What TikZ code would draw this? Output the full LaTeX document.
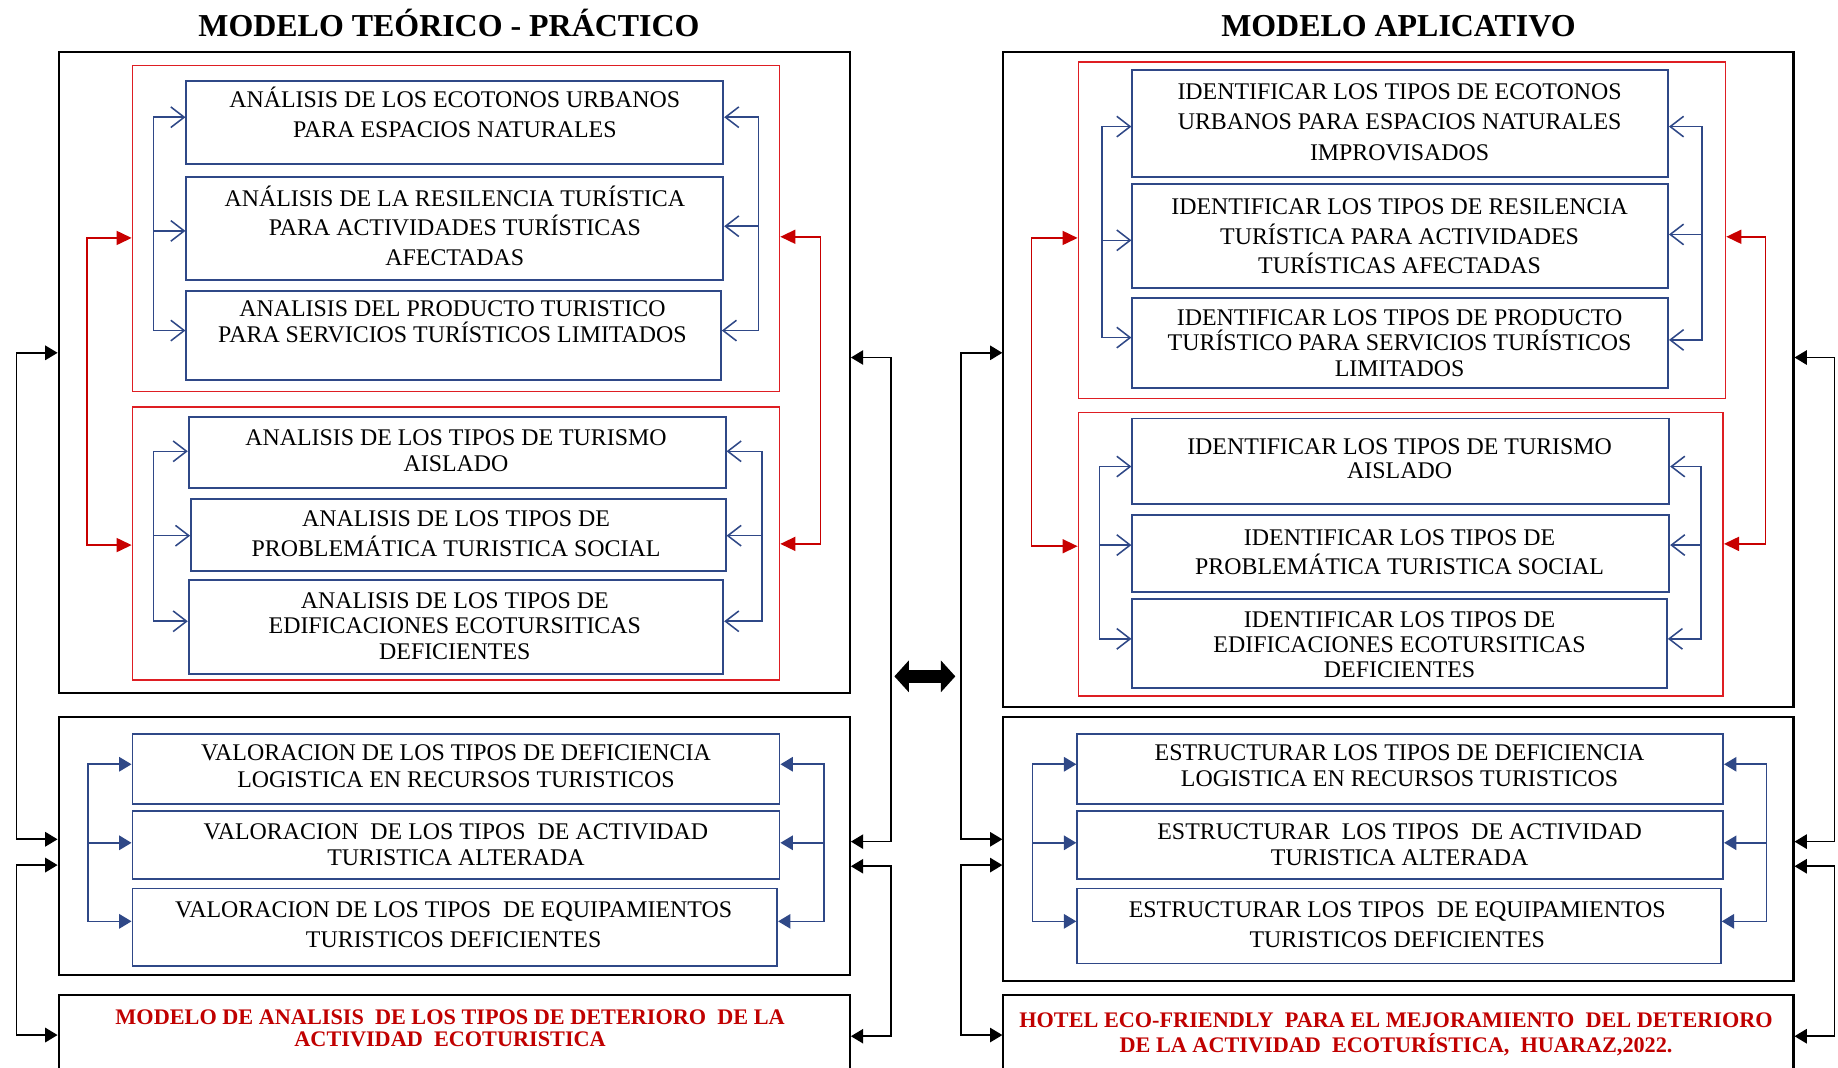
\documentclass[tikz,border=0pt]{standalone}
\usepackage{fontspec}
\setmainfont{Liberation Serif}
\usetikzlibrary{arrows.meta,fit}
\definecolor{navy}{RGB}{47,72,135}
\definecolor{rbox}{RGB}{222,30,35}
\definecolor{rarrow}{RGB}{200,0,0}
\definecolor{rtext}{RGB}{192,0,0}
\newcommand\bt[5]{\node[txt,font=\fontsize{11.6}{#4}\selectfont] (#1) at (#2,#3-11.8) {\rule{0pt}{10.5pt}#5};}
\newcommand\rt[5]{\node[txt,text=rtext,font=\fontsize{10.8}{#4}\selectfont\bfseries] (#1) at (#2,#3-12) {\rule{0pt}{10.5pt}#5};}
\begin{document}
\begin{tikzpicture}[x=0.02cm,y=-0.02cm,
 kbox/.style={draw=black,line width=1pt,inner sep=0pt},
 rbx/.style={draw=rbox,line width=0.8pt,inner sep=0pt},
 bbox/.style={draw=navy,line width=0.9pt,inner sep=0pt},
 txt/.style={anchor=north,align=center,inner sep=0pt},
 bl/.style={draw=navy,line width=0.75pt},
 bopen/.style={bl,-{Straight Barb[length=6.5pt,width=10pt]}},
 bopen2/.style={bl,{Straight Barb[length=6.5pt,width=10pt]}-{Straight Barb[length=6.5pt,width=10pt]}},
 bfill/.style={bl,-{Triangle[length=6pt,width=7pt]}},
 bfill2/.style={bl,{Triangle[length=6pt,width=7pt]}-{Triangle[length=6pt,width=7pt]}},
 rl/.style={draw=rarrow,line width=0.8pt},
 rfill2/.style={rl,{Triangle[length=7.3pt,width=6.8pt]}-{Triangle[length=7.3pt,width=6.8pt]}},
 kl/.style={draw=black,line width=0.8pt},
 kfill2/.style={kl,{Triangle[length=6pt,width=7pt]}-{Triangle[length=6pt,width=7pt]}},
 ttl/.style={font=\fontsize{15.5}{18}\selectfont\bfseries,anchor=base,inner sep=0pt}
]
\useasboundingbox (0,0) rectangle (1568,911);
\clip (0,0) rectangle (1568,911);

% titles
\node[ttl] (T1) at (383,31) {MODELO TEÓRICO - PRÁCTICO};
\node[ttl] (T2) at (1193,31) {MODELO APLICATIVO};

% ===== left panel =====
\node[kbox,fit={(50,44)(725,591)}] (K1) {};
\node[rbx,fit={(113,56)(665,334)}] (RA) {};
\node[bbox,fit={(159,69)(617,140)}] (B1) {};
\node[bbox,fit={(159,151)(617,239)}] (B2) {};
\node[bbox,fit={(159,248)(615,324)}] (B3) {};
\node[rbx,fit={(113,347)(665,580)}] (RB) {};
\node[bbox,fit={(161,356)(619,416)}] (C1) {};
\node[bbox,fit={(163,426)(619,487)}] (C2) {};
\node[bbox,fit={(161,495)(617,575)}] (C3) {};
\node[kbox,fit={(50,612)(725,832)}] (K2) {};
\node[bbox,fit={(113,626)(665,686)}] (D1) {};
\node[bbox,fit={(113,692)(665,750)}] (D2) {};
\node[bbox,fit={(113,758)(663,824)}] (D3) {};
\node[kbox,fit={(50,849)(725,940)}] (K3) {};

\bt{tB1}{388}{85}{14.2pt}{ANÁLISIS DE LOS ECOTONOS URBANOS\\PARA ESPACIOS NATURALES}
\bt{tB2}{388}{169}{14.4pt}{ANÁLISIS DE LA RESILENCIA TURÍSTICA\\PARA ACTIVIDADES TURÍSTICAS\\AFECTADAS}
\bt{tB3}{386}{263}{12.5pt}{ANALISIS DEL PRODUCTO TURISTICO\\PARA SERVICIOS TURÍSTICOS LIMITADOS}
\bt{tC1}{389}{373}{12.5pt}{ANALISIS DE LOS TIPOS DE TURISMO\\AISLADO}
\bt{tC2}{389}{442}{14.7pt}{ANALISIS DE LOS TIPOS DE\\PROBLEMÁTICA TURISTICA SOCIAL}
\bt{tC3}{388}{512}{12.3pt}{ANALISIS DE LOS TIPOS DE\\EDIFICACIONES ECOTURSITICAS\\DEFICIENTES}
\bt{tD1}{389}{642}{13pt}{VALORACION DE LOS TIPOS DE DEFICIENCIA\\LOGISTICA EN RECURSOS TURISTICOS}
\bt{tD2}{389}{709}{12.5pt}{VALORACION\ \ DE LOS TIPOS\ \ DE ACTIVIDAD\\TURISTICA ALTERADA}
\bt{tD3}{387}{776}{14.2pt}{VALORACION DE LOS TIPOS\ \ DE EQUIPAMIENTOS\\TURISTICOS DEFICIENTES}
\rt{tK3}{384}{867}{10.8pt}{MODELO DE ANALISIS\ \ DE LOS TIPOS DE DETERIORO\ \ DE LA\\ACTIVIDAD\ \ ECOTURISTICA}

% blue brackets, left panel
\draw[bopen2] (B1.west|-0,100) -- (131,100) -- (131,282) -- (B3.west|-0,282);
\draw[bopen] (131,197) -- (B2.west|-0,197);
\draw[bopen2] (B1.east|-0,100) -- (647,100) -- (647,282) -- (B3.east|-0,282);
\draw[bopen] (647,193) -- (B2.east|-0,193);
\draw[bopen2] (C1.west|-0,385) -- (131,385) -- (131,530) -- (C3.west|-0,530);
\draw[bopen] (131,457) -- (C2.west|-0,457);
\draw[bopen2] (C1.east|-0,385) -- (650,385) -- (650,530) -- (C3.east|-0,530);
\draw[bopen] (650,457) -- (C2.east|-0,457);
\draw[bfill2] (D1.west|-0,652) -- (75,652) -- (75,786) -- (D3.west|-0,786);
\draw[bfill] (75,719) -- (D2.west|-0,719);
\draw[bfill2] (D1.east|-0,652) -- (703,652) -- (703,786) -- (D3.east|-0,786);
\draw[bfill] (703,719) -- (D2.east|-0,719);
% red
\draw[rfill2] (RA.west|-0,203) -- (74,203) -- (74,465) -- (RB.west|-0,465);
\draw[rfill2] (RA.east|-0,202) -- (700,202) -- (700,464) -- (RB.east|-0,464);
% black
\draw[kfill2] (K1.west|-0,301) -- (14,301) -- (14,716) -- (K2.west|-0,716);
\draw[kfill2] (K2.west|-0,738) -- (14,738) -- (14,883) -- (K3.west|-0,883);
\draw[kfill2] (K1.east|-0,305) -- (760,305) -- (760,718) -- (K2.east|-0,718);
\draw[kfill2] (K2.east|-0,739) -- (760,739) -- (760,884) -- (K3.east|-0,884);

% middle double arrow
\coordinate (dA) at (763,577);
\coordinate (dB) at (815,577);
\draw[line width=6.5pt,{Triangle[length=7pt,width=15pt]}-{Triangle[length=7pt,width=15pt]}] (dA) -- (dB);

% ===== right panel =====
\node[kbox,fit={(856,44)(1530,603)}] (L1) {};
\node[rbx,fit={(920,53)(1472,340)}] (SA) {};
\node[bbox,fit={(966,60)(1423,151)}] (E1) {};
\node[bbox,fit={(966,157)(1423,246)}] (E2) {};
\node[bbox,fit={(966,254)(1423,331)}] (E3) {};
\node[rbx,fit={(920,352)(1470,594)}] (SB) {};
\node[bbox,fit={(966,357)(1424,430)}] (F1) {};
\node[bbox,fit={(966,439)(1424,505)}] (F2) {};
\node[bbox,fit={(966,511)(1422,587)}] (F3) {};
\node[kbox,fit={(856,612)(1530,837)}] (L2) {};
\node[bbox,fit={(919,626)(1470,686)}] (G1) {};
\node[bbox,fit={(919,692)(1470,750)}] (G2) {};
\node[bbox,fit={(919,758)(1468,822)}] (G3) {};
\node[kbox,fit={(856,849)(1530,940)}] (L3) {};

\bt{tE1}{1194}{78}{14.7pt}{IDENTIFICAR LOS TIPOS DE ECOTONOS\\URBANOS PARA ESPACIOS NATURALES\\IMPROVISADOS}
\bt{tE2}{1194}{176}{14.4pt}{IDENTIFICAR LOS TIPOS DE RESILENCIA\\TURÍSTICA PARA ACTIVIDADES\\TURÍSTICAS AFECTADAS}
\bt{tE3}{1194}{271}{12.2pt}{IDENTIFICAR LOS TIPOS DE PRODUCTO\\TURÍSTICO PARA SERVICIOS TURÍSTICOS\\LIMITADOS}
\bt{tF1}{1194}{381}{11.4pt}{IDENTIFICAR LOS TIPOS DE TURISMO\\AISLADO}
\bt{tF2}{1194}{458}{14.2pt}{IDENTIFICAR LOS TIPOS DE\\PROBLEMÁTICA TURISTICA SOCIAL}
\bt{tF3}{1194}{528}{12.2pt}{IDENTIFICAR LOS TIPOS DE\\EDIFICACIONES ECOTURSITICAS\\DEFICIENTES}
\bt{tG1}{1194}{642}{12.5pt}{ESTRUCTURAR LOS TIPOS DE DEFICIENCIA\\LOGISTICA EN RECURSOS TURISTICOS}
\bt{tG2}{1194}{709}{12.5pt}{ESTRUCTURAR\ \ LOS TIPOS\ \ DE ACTIVIDAD\\TURISTICA ALTERADA}
\bt{tG3}{1192}{776}{14.2pt}{ESTRUCTURAR LOS TIPOS\ \ DE EQUIPAMIENTOS\\TURISTICOS DEFICIENTES}
\rt{tL3}{1191}{870}{11.9pt}{HOTEL ECO-FRIENDLY\ \ PARA EL MEJORAMIENTO\ \ DEL DETERIORO\\DE LA ACTIVIDAD\ \ ECOTURÍSTICA,\ \ HUARAZ,2022.}

% blue brackets, right panel
\draw[bopen2] (E1.west|-0,108) -- (940,108) -- (940,288) -- (E3.west|-0,288);
\draw[bopen] (940,205) -- (E2.west|-0,205);
\draw[bopen2] (E1.east|-0,108) -- (1452,108) -- (1452,290) -- (E3.east|-0,290);
\draw[bopen] (1452,200) -- (E2.east|-0,200);
\draw[bopen2] (F1.west|-0,398) -- (938,398) -- (938,545) -- (F3.west|-0,545);
\draw[bopen] (938,465) -- (F2.west|-0,465);
\draw[bopen2] (F1.east|-0,398) -- (1451,398) -- (1451,545) -- (F3.east|-0,545);
\draw[bopen] (1451,465) -- (F2.east|-0,465);
\draw[bfill2] (G1.west|-0,652) -- (881,652) -- (881,786) -- (G3.west|-0,786);
\draw[bfill] (881,719) -- (G2.west|-0,719);
\draw[bfill2] (G1.east|-0,652) -- (1507,652) -- (1507,786) -- (G3.east|-0,786);
\draw[bfill] (1507,719) -- (G2.east|-0,719);
% red
\draw[rfill2] (SA.west|-0,203) -- (880,203) -- (880,466) -- (SB.west|-0,466);
\draw[rfill2] (SA.east|-0,202) -- (1506,202) -- (1506,464) -- (SB.east|-0,464);
% black
\draw[kfill2] (L1.west|-0,301) -- (820,301) -- (820,716) -- (L2.west|-0,716);
\draw[kfill2] (L2.west|-0,738) -- (820,738) -- (820,883) -- (L3.west|-0,883);
\draw[kfill2] (L1.east|-0,305) -- (1565,305) -- (1565,718) -- (L2.east|-0,718);
\draw[kfill2] (L2.east|-0,739) -- (1565,739) -- (1565,884) -- (L3.east|-0,884);
\end{tikzpicture}
\end{document}
